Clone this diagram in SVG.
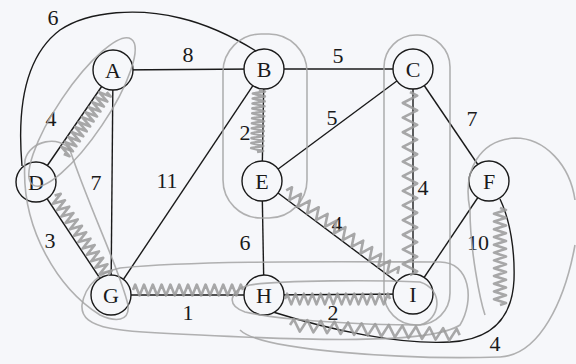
<svg xmlns="http://www.w3.org/2000/svg" xmlns:xlink="http://www.w3.org/1999/xlink" width="576" height="364" viewBox="0 0 576 364">
<style>
.e{stroke:#1a1a1a;stroke-width:1.4;fill:none}
.n circle{fill:#f6f7fa;stroke:#1a1a1a;stroke-width:1.4}
text{font-family:"Liberation Serif","DejaVu Serif","Times New Roman",serif;font-size:22px;fill:#1a1a1a;text-anchor:middle}
.p{stroke:#a3a3a3;stroke-width:1.6;fill:none;opacity:.85}
.z{stroke:#9a9a9a;stroke-width:2.6;fill:none;stroke-linejoin:round;opacity:.85}
</style>
<defs>
<path id="zz" vector-effect="non-scaling-stroke" d="M0,0 l2,-6 l4,12 l4,-12 l4,12 l4,-12 l4,12 l4,-12 l4,12 l4,-12 l4,12 l4,-12 l4,12 l4,-12 l4,12 l4,-12 l4,12 l4,-12 l4,12 l4,-12 l4,12 l4,-12 l4,12 l4,-12 l4,12 l4,-12 l2,6"/>
</defs>
<rect width="576" height="364" fill="#f6f7fa"/>
<g id="connectors">
<line class="e" x1="113" y1="70" x2="264" y2="69"/>
<line class="e" x1="264" y1="69" x2="413" y2="69"/>
<line class="e" x1="113" y1="70" x2="36" y2="182"/>
<line class="e" x1="113" y1="70" x2="111" y2="295"/>
<line class="e" x1="264" y1="69" x2="262" y2="181"/>
<line class="e" x1="264" y1="69" x2="113" y2="295"/>
<line class="e" x1="413" y1="69" x2="262" y2="181"/>
<line class="e" x1="413" y1="69" x2="413" y2="294"/>
<line class="e" x1="413" y1="69" x2="489" y2="181"/>
<line class="e" x1="36" y1="182" x2="111" y2="295"/>
<line class="e" x1="262" y1="181" x2="264" y2="295"/>
<line class="e" x1="262" y1="181" x2="413" y2="294"/>
<line class="e" x1="489" y1="181" x2="413" y2="294"/>
<line class="e" x1="111" y1="295" x2="264" y2="295"/>
<line class="e" x1="264" y1="295" x2="413" y2="294"/>
<path class="e" d="M22,166 C18,120 20,60 60,30 C90,10 140,8 180,18 C210,25 235,38 256,51"/>
<path class="e" d="M273,312 C330,330 400,345 450,342 C490,340 512,320 514,280 C515,250 510,220 500,199"/>
</g>
<g id="labels">
<text x="53" y="25">6</text>
<text x="188" y="62">8</text>
<text x="338" y="63">5</text>
<text x="51" y="126">4</text>
<text x="245" y="140">2</text>
<text x="332" y="125">5</text>
<text x="472" y="126">7</text>
<text x="96" y="190">7</text>
<text x="167" y="188">11</text>
<text x="50" y="248">3</text>
<text x="245" y="250">6</text>
<text x="188" y="320">1</text>
<text x="423" y="195">4</text>
<text x="337" y="231">4</text>
<text x="478" y="250">10</text>
<text x="333" y="320">2</text>
<text x="495" y="351">4</text>
</g>
<g id="A" class="n"><circle cx="113" cy="70" r="20"/><text x="113" y="77.5">A</text></g>
<g id="B" class="n"><circle cx="264" cy="69" r="20"/><text x="264" y="76.5">B</text></g>
<g id="C" class="n"><circle cx="413" cy="69" r="20"/><text x="413" y="76.5">C</text></g>
<g id="D" class="n"><circle cx="36" cy="182" r="20"/><text x="36" y="189.5">D</text></g>
<g id="E" class="n"><circle cx="262" cy="181" r="20"/><text x="262" y="188.5">E</text></g>
<g id="F" class="n"><circle cx="489" cy="181" r="20"/><text x="489" y="188.5">F</text></g>
<g id="G" class="n"><circle cx="111" cy="295" r="20"/><text x="111" y="302.5">G</text></g>
<g id="H" class="n"><circle cx="264" cy="295" r="20"/><text x="264" y="302.5">H</text></g>
<g id="I" class="n"><circle cx="413" cy="294" r="20"/><text x="413" y="301.5">I</text></g>
<g id="annotations">
<ellipse class="p" cx="82" cy="112" rx="88" ry="24" transform="rotate(-56 82 112)"/>
<path class="p" d="M25,160 C20,230 60,290 100,315 C115,322 130,322 128,305 C120,270 90,210 70,150 C60,135 30,140 25,160 Z"/>
<rect class="p" x="223" y="34" width="84" height="184" rx="38"/>
<rect class="p" x="384" y="35" width="66" height="290" rx="32"/>
<path class="p" d="M120,268 C200,260 350,262 440,262 C470,262 475,300 460,325 C430,345 300,340 200,335 C120,332 80,330 82,305 C85,285 100,272 120,268 Z"/>
<path class="p" d="M250,285 C280,280 380,280 420,282 C445,290 440,320 420,325 C360,325 280,320 245,312 C225,305 230,290 250,285 Z"/>
<path class="p" d="M240,330 C260,350 400,360 500,357 C540,355 565,300 575,245"/>
<path class="p" d="M470,210 C462,170 480,140 515,138 C545,138 570,165 575,200"/>
<path class="p" d="M470,210 C470,250 480,300 485,315"/>
<use class="z" href="#zz" xlink:href="#zz" transform="translate(101 88) rotate(124.7) translate(0 -7) scale(0.755 1)"/>
<use class="z" href="#zz" xlink:href="#zz" transform="translate(259 90) rotate(91.8) scale(0.62 1)"/>
<use class="z" href="#zz" xlink:href="#zz" transform="translate(410 92) rotate(90) scale(1.83 1.2)"/>
<use class="z" href="#zz" xlink:href="#zz" transform="translate(48 200) rotate(56.4) translate(0 -8) scale(0.96 1)"/>
<use class="z" href="#zz" xlink:href="#zz" transform="translate(282 196) rotate(36.8) translate(0 -7) scale(1.39 1)"/>
<use class="z" href="#zz" xlink:href="#zz" transform="translate(133 290) scale(1.1 0.9)"/>
<use class="z" href="#zz" xlink:href="#zz" transform="translate(285 299) scale(1.05 0.9)"/>
<use class="z" href="#zz" xlink:href="#zz" transform="translate(500 208) rotate(90) scale(0.97 1)"/>
<use class="z" href="#zz" xlink:href="#zz" transform="translate(290 325) rotate(3.4) scale(1.7 1)"/>
</g>
</svg>
